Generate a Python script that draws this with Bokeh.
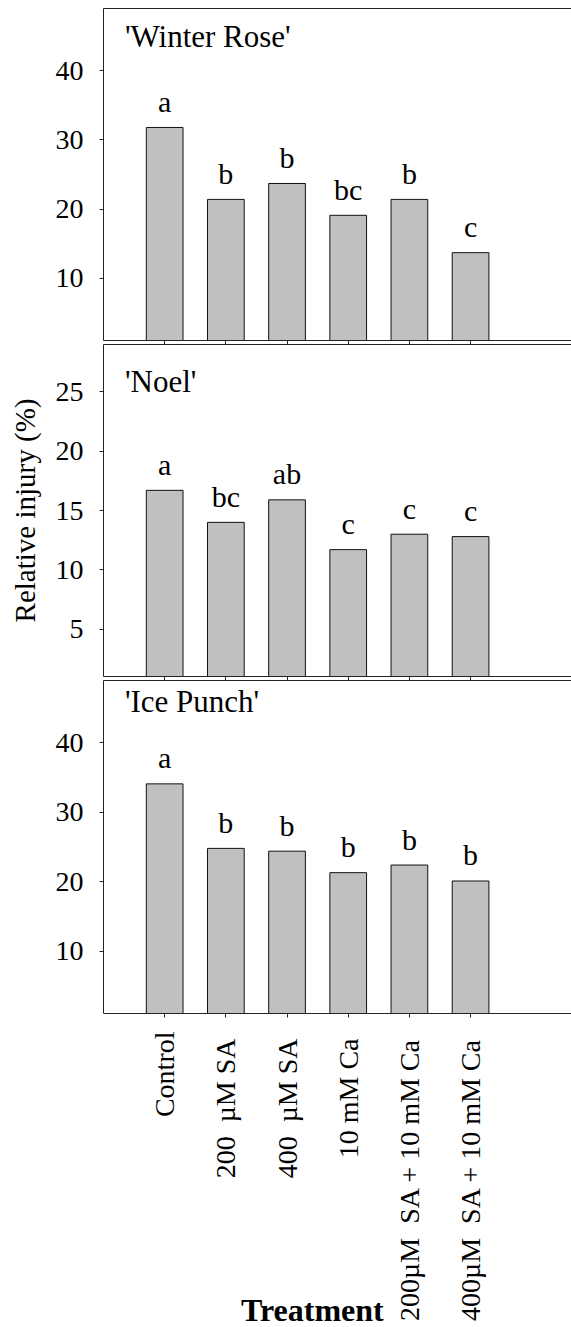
import numpy as np
from bokeh.plotting import figure
from bokeh.models import Range1d, FixedTicker, LinearAxis, Label, ColumnDataSource
from bokeh.layouts import column
from bokeh.embed import file_html
from bokeh.resources import INLINE
from bokeh.core.properties import value

# ---------------- data ----------------
treatments = ["Control",
              "200\u00a0\u00a0µM SA\u00a0",
              "400\u00a0\u00a0µM SA\u00a0",
              "10 mM Ca\u00a0",
              "200µM\u00a0\u00a0SA + 10 mM Ca\u00a0",
              "400µM\u00a0\u00a0SA + 10 mM Ca\u00a0"]
cultivars = ["'Winter Rose'", "'Noel'", "'Ice Punch'"]
winter_rose = [31.8, 21.4, 23.7, 19.1, 21.4, 13.7]
noel = [16.7, 14.0, 15.9, 11.7, 13.0, 12.8]
ice_punch = [34.1, 24.8, 24.4, 21.3, 22.4, 20.1]
letters_wr = ["a", "b", "b", "bc", "b", "c"]
letters_noel = ["a", "bc", "ab", "c", "c", "c"]
letters_ip = ["a", "b", "b", "b", "b", "b"]
yticks_wr = [10, 20, 30, 40]
yticks_noel = [5, 10, 15, 20, 25]
yticks_ip = [10, 20, 30, 40]
ylabel = "Relative injury (%)"
xlabel = "Treatment"

FONT = "'Liberation Serif'"
xpos = list(range(1, len(treatments) + 1))


def panel(vals, letters, yticks, yrange, title, title_y, height,
          min_top, axis_base=1, ylow=None, bottom_labels=False,
          show_ylabel=False):
    lo = yrange[0] if ylow is None else ylow
    p = figure(width=571, height=height, output_backend="svg",
               toolbar_location=None, x_range=Range1d(0, 7.65),
               y_range=Range1d(lo, yrange[1]), min_border_left=103,
               min_border_right=0, min_border_top=min_top,
               min_border_bottom=0)
    p.outline_line_color = None
    p.grid.visible = False
    p.background_fill_color = "white"
    p.border_fill_color = "white"

    src = ColumnDataSource(dict(x=xpos, top=vals, lab=letters))
    p.vbar(x="x", top="top", bottom=axis_base, width=0.6, source=src,
           fill_color="#c0c0c0", line_color="#111111", line_width=1)
    p.text(x="x", y="top", text="lab", source=src, y_offset=-26,
           text_align="center", text_baseline="alphabetic",
           text_font=value(FONT), text_font_size="30px", text_color="black")

    # y axis
    ya = p.yaxis[0]
    ya.ticker = FixedTicker(ticks=yticks)
    ya.bounds = yrange
    ya.minor_tick_line_color = None
    ya.major_tick_out = 4
    ya.major_tick_in = 0
    ya.major_label_standoff = 16
    ya.major_label_text_font = FONT
    ya.major_label_text_font_size = "28px"
    ya.major_label_text_color = "black"
    ya.axis_line_color = "#222222"
    ya.major_tick_line_color = "#222222"
    if show_ylabel:
        ya.axis_label = ylabel
        ya.axis_label_text_font = FONT
        ya.axis_label_text_font_size = "29px"
        ya.axis_label_text_font_style = "normal"
        ya.axis_label_text_color = "black"
        ya.axis_label_standoff = 12

    # x axis
    xa = p.xaxis[0]
    xa.ticker = FixedTicker(ticks=xpos)
    xa.minor_tick_line_color = None
    xa.major_tick_out = 4
    xa.major_tick_in = 0
    xa.axis_line_color = "#222222"
    xa.major_tick_line_color = "#222222"
    if bottom_labels:
        xa.fixed_location = axis_base
        xa.major_label_overrides = {i: t for i, t in zip(xpos, treatments)}
        xa.major_label_orientation = np.pi / 2
        xa.major_label_text_font = FONT
        xa.major_label_text_font_size = "28px"
        xa.major_label_text_color = "black"
        xa.major_label_standoff = 14
    else:
        xa.major_label_overrides = {i: "" for i in xpos}
        xa.major_label_standoff = 0

    # top border
    top = LinearAxis(ticker=FixedTicker(ticks=[]), major_tick_out=0,
                     major_tick_in=0, minor_tick_line_color=None,
                     major_label_standoff=0, axis_line_color="#222222")
    p.add_layout(top, "above")

    p.add_layout(Label(x=0.35, y=title_y, text=title, text_font=FONT,
                       text_font_size="31px", text_color="black",
                       text_baseline="alphabetic", text_align="left"))
    return p


p1 = panel(winter_rose, letters_wr, yticks_wr, (1, 49), cultivars[0], 45.0,
           344, 8)
p2 = panel(noel, letters_noel, yticks_noel, (1, 29), cultivars[1], 25.9,
           336, 0, show_ylabel=True)
p3 = panel(ice_punch, letters_ip, yticks_ip, (1, 49), cultivars[2], 46.0,
           647, 0, ylow=-44.26, bottom_labels=True)
p3.add_layout(Label(x=4.58, y=-41.8, text=xlabel, text_font=FONT,
                    text_font_size="32px", text_font_style="bold",
                    text_color="black", text_align="right",
                    text_baseline="alphabetic"))

layout = column(p1, p2, p3, spacing=0)
open("out.html", "w").write(file_html(layout, INLINE))
